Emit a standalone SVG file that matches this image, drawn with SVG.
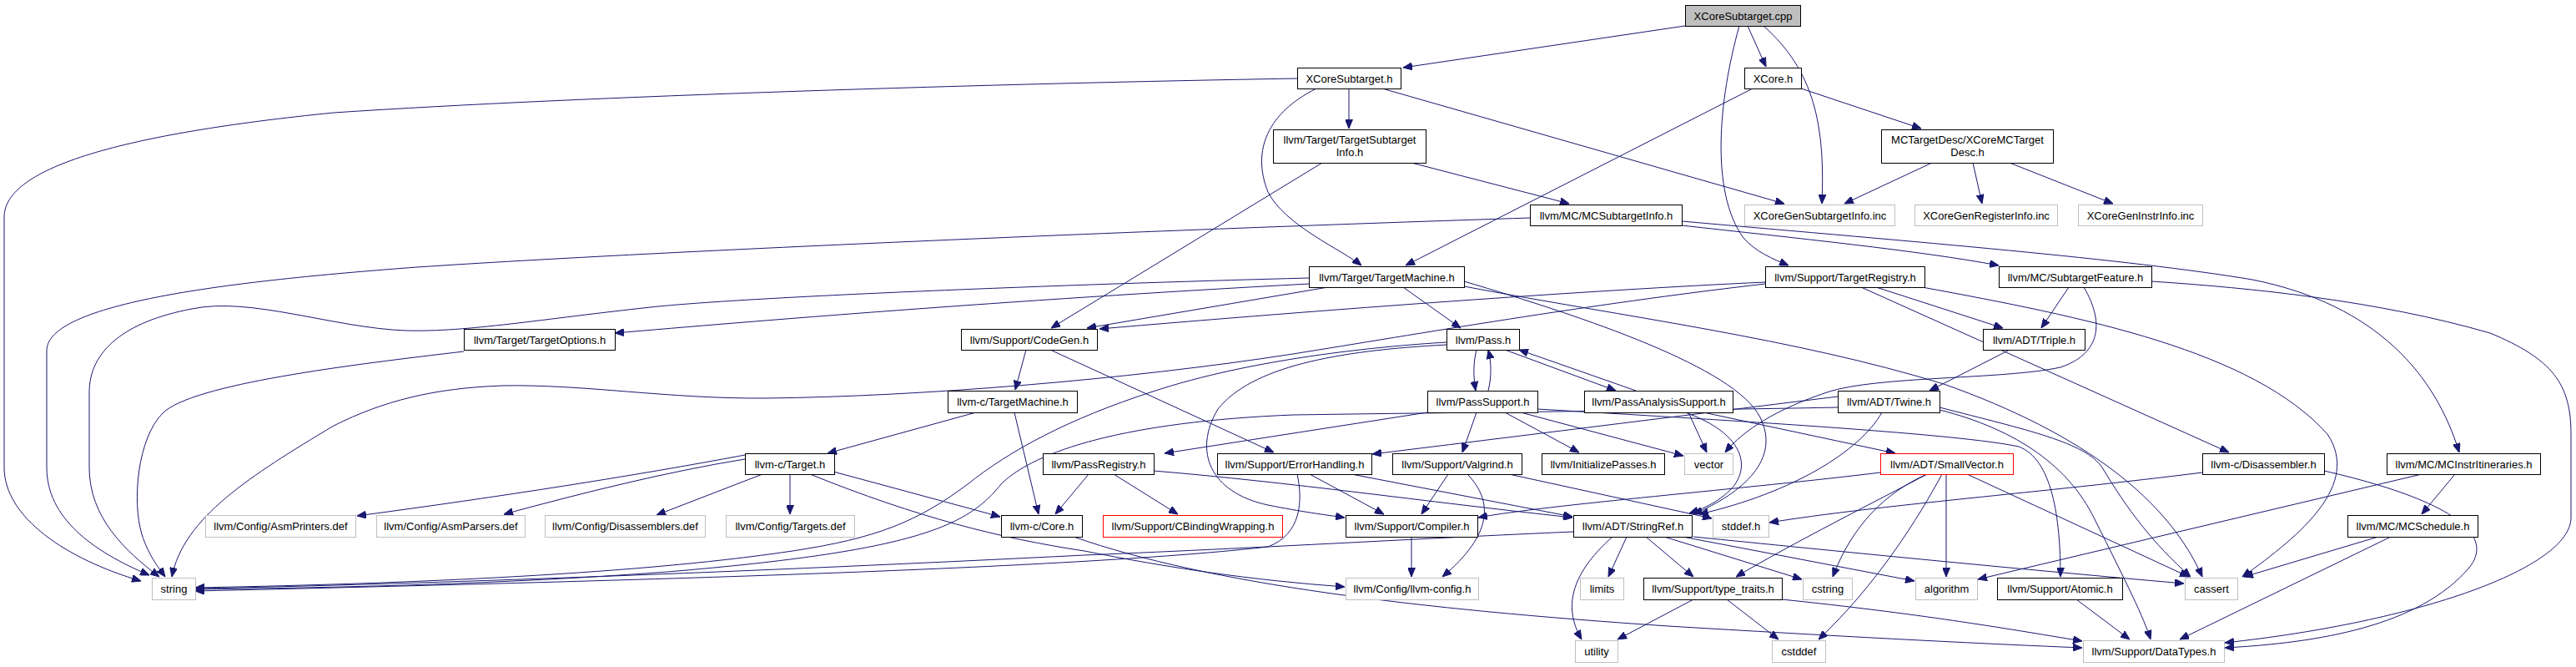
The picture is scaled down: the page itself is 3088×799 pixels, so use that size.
<svg xmlns="http://www.w3.org/2000/svg" width="3088" height="799" viewBox="0 0 3088 799">
<style>
rect{fill:#fff;stroke:#000;stroke-width:1}
.g rect{stroke:#bfbfbf}
.r rect{stroke:#ff0000}
.root rect{fill:#bfbfbf}
text{font-family:"Liberation Sans",Arial,Helvetica,sans-serif;font-size:13px;fill:#000;text-anchor:middle}
#edges path{fill:none;stroke:#191970;stroke-width:1;marker-end:url(#a)}
</style>
<defs>
<marker id="a" markerWidth="11" markerHeight="9" refX="11" refY="4.5" orient="auto" markerUnits="userSpaceOnUse"><path d="M0,0 L11,4.5 L0,9 z" fill="#191970" stroke="#191970" stroke-width="1"/></marker>
</defs>
<rect x="0" y="0" width="3088" height="799" style="fill:#fff;stroke:none"/>
<g id="edges">
<path d="M2020,31 L1682,81"/>
<path d="M2095,31 L2117,80"/>
<path d="M2114,31 C2175,85 2188,150 2184,244"/>
<path d="M2085,31 C2060,120 2050,230 2090,285 C2105,302 2125,310 2144,318"/>
<path d="M1657,106 L2139,244"/>
<path d="M1617,106 L1617,154"/>
<path d="M1578,106 C1520,135 1500,180 1520,230 C1540,270 1610,300 1632,318"/>
<path d="M1555,94 C1200,100 700,115 400,135 C150,160 5,200 5,260 L5,560 C5,620 80,670 169,696"/>
<path d="M2101,106 L1685,318"/>
<path d="M2159,106 L2303,154"/>
<path d="M1585,195 L1260,393"/>
<path d="M1692,195 L1881,244"/>
<path d="M2316,195 L2211,244"/>
<path d="M2365,195 L2376,244"/>
<path d="M2409,195 L2533,244"/>
<path d="M1834,261 C1400,275 800,300 500,320 C300,335 56,360 56,420 L56,560 C56,620 110,660 179,689"/>
<path d="M2016,270 C2150,285 2300,300 2396,318"/>
<path d="M2016,265 C2300,290 2550,310 2700,335 C2850,365 2920,450 2948,542"/>
<path d="M1569,333 C1300,340 900,355 780,368 C650,382 560,398 487,396 C400,393 300,355 230,370 C150,385 107,420 107,470 L107,560 C107,620 150,660 191,691"/>
<path d="M1569,340 C1200,360 900,385 737,399"/>
<path d="M1592,344 L1303,393"/>
<path d="M1682,344 L1751,393"/>
<path d="M1755,337 C1900,380 2080,440 2110,500 C2135,550 2090,590 2030,616"/>
<path d="M1755,343 C1950,380 2150,405 2330,460 C2500,520 2600,600 2640,691"/>
<path d="M2116,338 C1900,348 1600,370 1318,394"/>
<path d="M2116,340 C1900,365 1700,400 1550,424 C1350,455 1100,475 919,477 C800,478 700,460 602,462 C520,465 460,480 400,510 C300,570 220,620 206,691"/>
<path d="M2249,344 L2401,393"/>
<path d="M2231,344 L2672,542"/>
<path d="M2304,344 C2500,380 2700,420 2790,520 C2830,580 2760,640 2688,691"/>
<path d="M2480,344 L2447,393"/>
<path d="M2498,344 C2525,390 2515,425 2470,440 C2400,455 2250,450 2190,470 C2130,490 2090,515 2068,542"/>
<path d="M2579,337 C2700,345 2850,360 2985,399 C3060,430 3082,460 3082,520 L3082,620 C3082,680 2900,745 2667,770"/>
<path d="M2409,419 L2313,468"/>
<path d="M2256,494 C2230,540 2150,590 2037,616"/>
<path d="M2203,475 C2000,500 1800,525 1645,544"/>
<path d="M2203,488 C2000,492 1750,494 1550,497 C1350,505 1240,540 1200,580 C1160,630 1100,660 800,685 C600,700 400,704 234,706"/>
<path d="M2325,491 C2420,515 2480,560 2510,620 C2550,700 2570,740 2578,766"/>
<path d="M2325,488 C2430,515 2500,530 2520,560 C2550,610 2580,650 2626,691"/>
<path d="M1770,419 C1766,435 1766,450 1769,468"/>
<path d="M1784,468 C1788,452 1788,435 1784,419"/>
<path d="M1804,419 L1937,468"/>
<path d="M1961,468 L1821,419"/>
<path d="M1734,410 C1650,415 1500,430 1382,469 C1280,502 1210,540 1160,580 C1100,625 1050,645 950,660 C750,690 450,700 234,704"/>
<path d="M1734,413 C1600,420 1500,440 1460,490 C1430,540 1450,590 1520,605 C1560,613 1590,617 1612,620"/>
<path d="M1711,494 L1396,543"/>
<path d="M1770,494 L1753,542"/>
<path d="M1804,494 L1893,542"/>
<path d="M1823,494 L2018,546"/>
<path d="M1843,490 C2100,505 2350,520 2420,535 C2460,550 2470,620 2470,691"/>
<path d="M2024,494 L2046,542"/>
<path d="M2020,494 C2080,515 2100,550 2080,580 C2065,600 2040,610 2025,615"/>
<path d="M2042,494 L2272,543"/>
<path d="M1230,419 L1217,467"/>
<path d="M1259,419 L1527,542"/>
<path d="M1170,494 L992,543"/>
<path d="M1216,494 L1245,616"/>
<path d="M893,545 C760,570 600,595 428,618"/>
<path d="M893,550 C800,565 700,590 604,616"/>
<path d="M914,568 L787,617"/>
<path d="M947,568 L947,616"/>
<path d="M999,565 L1199,619"/>
<path d="M971,568 C1100,620 1200,645 1300,660 C1400,680 1500,695 1612,703"/>
<path d="M1305,568 L1265,616"/>
<path d="M1335,568 L1412,616"/>
<path d="M1383,564 C1550,578 1700,600 1885,620"/>
<path d="M1570,568 L1659,616"/>
<path d="M1620,568 L1885,619"/>
<path d="M1555,568 C1562,600 1560,640 1520,655 C1300,680 800,695 234,708"/>
<path d="M1736,568 L1704,616"/>
<path d="M1759,568 C1790,600 1790,640 1729,691"/>
<path d="M1809,568 L2052,621"/>
<path d="M2254,566 C2100,585 1850,605 1772,620"/>
<path d="M2310,568 C2250,600 2150,650 2081,691"/>
<path d="M2310,568 C2260,590 2220,630 2197,691"/>
<path d="M2328,568 C2300,620 2250,700 2180,766"/>
<path d="M2333,568 L2333,691"/>
<path d="M2358,568 L2624,691"/>
<path d="M2640,566 C2450,590 2250,605 2121,626"/>
<path d="M2786,564 C2900,590 3000,630 2960,680 C2900,750 2780,770 2667,776"/>
<path d="M2943,568 L2903,616"/>
<path d="M2903,568 L2371,694"/>
<path d="M2851,643 L2690,691"/>
<path d="M2866,643 L2613,766"/>
<path d="M1287,643 C1450,700 1700,730 2000,750 C2200,762 2350,770 2496,776"/>
<path d="M1692,643 L1692,691"/>
<path d="M1933,643 C1880,690 1875,730 1896,766"/>
<path d="M1950,643 L1928,691"/>
<path d="M1973,643 L2030,691"/>
<path d="M1995,643 L2160,694"/>
<path d="M2017,643 L2295,696"/>
<path d="M2030,643 C2200,660 2400,680 2618,699"/>
<path d="M1886,637 C1700,645 1540,655 1300,665 C900,685 500,700 234,705"/>
<path d="M2030,718 L1939,766"/>
<path d="M2070,718 L2132,766"/>
<path d="M2136,718 C2300,735 2400,752 2496,768"/>
<path d="M2489,718 L2553,766"/>
<path d="M556,421 C420,437 230,460 195,495 C165,525 158,600 170,640 C178,665 190,680 198,691"/>
</g>
<g id="n0" class="root"><rect x="2020.5" y="6.5" width="138" height="25"/><text x="2089.5" y="23.5">XCoreSubtarget.cpp</text></g>
<g id="n1"><rect x="1555.5" y="81.5" width="124" height="25"/><text x="1617.5" y="98.5">XCoreSubtarget.h</text></g>
<g id="n2"><rect x="2091.5" y="81.5" width="68" height="25"/><text x="2125.5" y="98.5">XCore.h</text></g>
<g id="n3"><rect x="1526.5" y="155.5" width="183" height="40"/><text x="1618" y="172">llvm/Target/TargetSubtarget</text><text x="1618" y="187">Info.h</text></g>
<g id="n4"><rect x="2255.5" y="155.5" width="206" height="40"/><text x="2358.5" y="172">MCTargetDesc/XCoreMCTarget</text><text x="2358.5" y="187">Desc.h</text></g>
<g id="n5"><rect x="1834.5" y="245.5" width="182" height="25"/><text x="1925.5" y="262.5">llvm/MC/MCSubtargetInfo.h</text></g>
<g id="n6" class="g"><rect x="2091.5" y="245.5" width="180" height="25"/><text x="2181.5" y="262.5">XCoreGenSubtargetInfo.inc</text></g>
<g id="n7" class="g"><rect x="2295.5" y="245.5" width="171" height="25"/><text x="2381" y="262.5">XCoreGenRegisterInfo.inc</text></g>
<g id="n8" class="g"><rect x="2491.5" y="245.5" width="149" height="25"/><text x="2566" y="262.5">XCoreGenInstrInfo.inc</text></g>
<g id="n9"><rect x="1569.5" y="319.5" width="186" height="25"/><text x="1662.5" y="336.5">llvm/Target/TargetMachine.h</text></g>
<g id="n10"><rect x="2116.5" y="319.5" width="191" height="25"/><text x="2212" y="336.5">llvm/Support/TargetRegistry.h</text></g>
<g id="n11"><rect x="2396.5" y="319.5" width="183" height="25"/><text x="2488" y="336.5">llvm/MC/SubtargetFeature.h</text></g>
<g id="n12"><rect x="556.5" y="394.5" width="181" height="25"/><text x="647" y="411.5">llvm/Target/TargetOptions.h</text></g>
<g id="n13"><rect x="1152.5" y="394.5" width="163" height="25"/><text x="1234" y="411.5">llvm/Support/CodeGen.h</text></g>
<g id="n14"><rect x="1734.5" y="394.5" width="87" height="25"/><text x="1778" y="411.5">llvm/Pass.h</text></g>
<g id="n15"><rect x="2377.5" y="394.5" width="122" height="25"/><text x="2438.5" y="411.5">llvm/ADT/Triple.h</text></g>
<g id="n16"><rect x="1136.5" y="468.5" width="155" height="26"/><text x="1214" y="486">llvm-c/TargetMachine.h</text></g>
<g id="n17"><rect x="1711.5" y="468.5" width="132" height="26"/><text x="1777.5" y="486">llvm/PassSupport.h</text></g>
<g id="n18"><rect x="1899.5" y="468.5" width="178" height="26"/><text x="1988.5" y="486">llvm/PassAnalysisSupport.h</text></g>
<g id="n19"><rect x="2203.5" y="468.5" width="122" height="26"/><text x="2264.5" y="486">llvm/ADT/Twine.h</text></g>
<g id="n20"><rect x="893.5" y="543.5" width="107" height="25"/><text x="947" y="560.5">llvm-c/Target.h</text></g>
<g id="n21"><rect x="1250.5" y="543.5" width="133" height="25"/><text x="1317" y="560.5">llvm/PassRegistry.h</text></g>
<g id="n22"><rect x="1459.5" y="543.5" width="185" height="25"/><text x="1552" y="560.5">llvm/Support/ErrorHandling.h</text></g>
<g id="n23"><rect x="1669.5" y="543.5" width="155" height="25"/><text x="1747" y="560.5">llvm/Support/Valgrind.h</text></g>
<g id="n24"><rect x="1848.5" y="543.5" width="147" height="25"/><text x="1922" y="560.5">llvm/InitializePasses.h</text></g>
<g id="n25" class="g"><rect x="2019.5" y="543.5" width="58" height="25"/><text x="2048.5" y="560.5">vector</text></g>
<g id="n26" class="r"><rect x="2254.5" y="543.5" width="159" height="25"/><text x="2334" y="560.5">llvm/ADT/SmallVector.h</text></g>
<g id="n27"><rect x="2640.5" y="543.5" width="146" height="25"/><text x="2713.5" y="560.5">llvm-c/Disassembler.h</text></g>
<g id="n28"><rect x="2861.5" y="543.5" width="184" height="25"/><text x="2953.5" y="560.5">llvm/MC/MCInstrItineraries.h</text></g>
<g id="n29" class="g"><rect x="246.5" y="617.5" width="180" height="26"/><text x="336.5" y="635">llvm/Config/AsmPrinters.def</text></g>
<g id="n30" class="g"><rect x="451.5" y="617.5" width="178" height="26"/><text x="540.5" y="635">llvm/Config/AsmParsers.def</text></g>
<g id="n31" class="g"><rect x="653.5" y="617.5" width="192" height="26"/><text x="749.5" y="635">llvm/Config/Disassemblers.def</text></g>
<g id="n32" class="g"><rect x="870.5" y="617.5" width="154" height="26"/><text x="947.5" y="635">llvm/Config/Targets.def</text></g>
<g id="n33"><rect x="1200.5" y="617.5" width="97" height="26"/><text x="1249" y="635">llvm-c/Core.h</text></g>
<g id="n34" class="r"><rect x="1322.5" y="617.5" width="215" height="26"/><text x="1430" y="635">llvm/Support/CBindingWrapping.h</text></g>
<g id="n35"><rect x="1613.5" y="617.5" width="158" height="26"/><text x="1692.5" y="635">llvm/Support/Compiler.h</text></g>
<g id="n36"><rect x="1886.5" y="617.5" width="142" height="26"/><text x="1957.5" y="635">llvm/ADT/StringRef.h</text></g>
<g id="n37" class="g"><rect x="2053.5" y="617.5" width="67" height="26"/><text x="2087" y="635">stddef.h</text></g>
<g id="n38"><rect x="2814.5" y="617.5" width="156" height="26"/><text x="2892.5" y="635">llvm/MC/MCSchedule.h</text></g>
<g id="n39" class="g"><rect x="182.5" y="692.5" width="52" height="26"/><text x="208.5" y="710">string</text></g>
<g id="n40" class="g"><rect x="1613.5" y="692.5" width="159" height="26"/><text x="1693" y="710">llvm/Config/llvm-config.h</text></g>
<g id="n41" class="g"><rect x="1894.5" y="692.5" width="52" height="26"/><text x="1920.5" y="710">limits</text></g>
<g id="n42"><rect x="1970.5" y="692.5" width="166" height="26"/><text x="2053.5" y="710">llvm/Support/type_traits.h</text></g>
<g id="n43" class="g"><rect x="2161.5" y="692.5" width="59" height="26"/><text x="2191" y="710">cstring</text></g>
<g id="n44" class="g"><rect x="2296.5" y="692.5" width="74" height="26"/><text x="2333.5" y="710">algorithm</text></g>
<g id="n45"><rect x="2394.5" y="692.5" width="150" height="26"/><text x="2469.5" y="710">llvm/Support/Atomic.h</text></g>
<g id="n46" class="g"><rect x="2619.5" y="692.5" width="63" height="26"/><text x="2651" y="710">cassert</text></g>
<g id="n47" class="g"><rect x="1888.5" y="767.5" width="51" height="26"/><text x="1914" y="785">utility</text></g>
<g id="n48" class="g"><rect x="2124.5" y="767.5" width="64" height="26"/><text x="2156.5" y="785">cstddef</text></g>
<g id="n49" class="g"><rect x="2497.5" y="767.5" width="169" height="26"/><text x="2582" y="785">llvm/Support/DataTypes.h</text></g>
</svg>
